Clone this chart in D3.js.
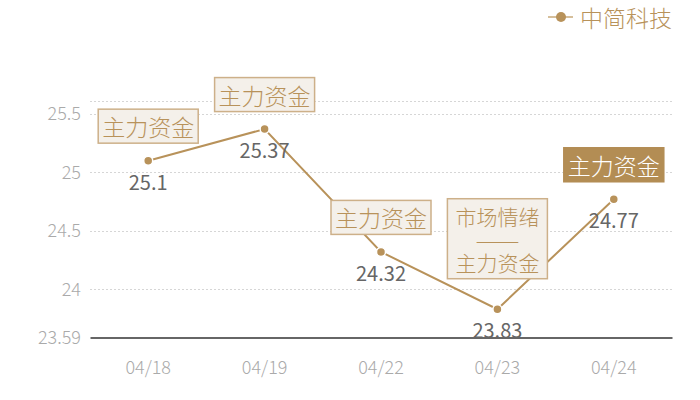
<!DOCTYPE html>
<html><head><meta charset="utf-8">
<script src="https://cdn.jsdelivr.net/npm/d3@7"></script>
<style>
html,body{margin:0;padding:0;background:#fff;}
svg{display:block;font-family:"Noto Sans CJK SC","Noto Sans",sans-serif;}
</style></head>
<body><svg id="c" width="700" height="400"></svg>
<script>
const categories = ["04/18","04/19","04/22","04/23","04/24"];
const values = [25.1, 25.37, 24.32, 23.83, 24.77];
const seriesName = "中简科技";
const yTicks = [23.59, 24, 24.5, 25, 25.5];
const yDomain = [23.59, 25.61];
const annotations = [
  {lines:["主力资金"], filled:false},
  {lines:["主力资金"], filled:false},
  {lines:["主力资金"], filled:false},
  {lines:["市场情绪","——","主力资金"], filled:false},
  {lines:["主力资金"], filled:true}
];

const gold = "#b8925a";
const FF = '"Noto Sans CJK SC","Noto Sans",sans-serif';
const svg = d3.select("#c");
const x = d3.scaleBand().domain(categories).range([90, 672]);
const y = d3.scaleLinear().domain(yDomain).range([337.3, 101]);
const cx = d => x(d) + x.bandwidth()/2;

// grid
const gridVals = yTicks.filter(v => v !== yDomain[0]).concat([yDomain[1]]);
svg.append("g").selectAll("line").data(gridVals).join("line")
  .attr("x1", 90).attr("x2", 672)
  .attr("y1", d => Math.round(y(d))+0.5).attr("y2", d => Math.round(y(d))+0.5)
  .attr("stroke", "#d6d6d6").attr("stroke-dasharray", "2,2");

// y axis labels
const yAxis = d3.axisLeft(y).tickValues(yTicks).tickSize(0).tickPadding(9).tickFormat(d => String(d));
const gy = svg.append("g").attr("transform", "translate(90,0)").call(yAxis);
gy.select(".domain").remove();
gy.selectAll("text").attr("fill", "#aaaaaa").attr("font-size", 18).attr("font-weight", 300)
  .attr("font-family", FF);

// x axis
const xAxis = d3.axisBottom(x).tickSize(0).tickPadding(24);
const gx = svg.append("g").attr("transform", `translate(0,${Math.round(y(yDomain[0]))+0.5})`).call(xAxis);
gx.select(".domain").attr("stroke", "#333").attr("stroke-width", 1.5);
gx.selectAll("text").attr("fill", "#aaaaaa").attr("font-size", 18).attr("font-weight", 300)
  .attr("font-family", FF);

// line
const line = d3.line().x((d,i) => cx(categories[i])).y(d => y(d));
svg.append("path").datum(values).attr("d", line)
  .attr("fill", "none").attr("stroke", gold).attr("stroke-width", 2);

svg.append("g").selectAll("circle").data(values).join("circle")
  .attr("cx", (d,i) => cx(categories[i])).attr("cy", d => y(d)).attr("r", 4.5)
  .attr("fill", gold).attr("stroke", "#fff").attr("stroke-width", 1.5);

// value labels
svg.append("g").selectAll("text").data(values).join("text")
  .attr("x", (d,i) => cx(categories[i])).attr("y", d => y(d) + 29)
  .attr("text-anchor", "middle").attr("font-size", 20).attr("font-weight", 400).attr("fill", "#666")
  .text(d => String(d));

// annotations
const ag = svg.append("g");
annotations.forEach((a, i) => {
  const px = cx(categories[i]), py = y(values[i]);
  const lh = 23;
  const h = a.lines.length === 1 ? 35 : 81;
  const w = 101;
  const gap = a.lines.length === 1 ? 17 : 30;
  const top = py - gap - h;
  ag.append("rect").attr("x", px - w/2 + 0.5).attr("y", top + 0.5).attr("width", w - 1).attr("height", h - 1)
    .attr("fill", a.filled ? "#b38d54" : "#f4f0ea")
    .attr("stroke", a.filled ? "#b38d54" : "#cdb089").attr("stroke-width", 1.5);
  const startY = top + h/2 - (a.lines.length - 1) * lh / 2;
  a.lines.forEach((t, j) => {
    const tx = ag.append("text").attr("x", px).attr("y", startY + j*lh)
      .attr("text-anchor", "middle").attr("dominant-baseline", "central")
      .attr("font-size", a.lines.length === 1 ? 23 : 21).attr("font-weight", 300)
      .attr("fill", a.filled ? "#fff" : "#b8925a").text(t);
    if (t === "——") tx.attr("textLength", 44).attr("lengthAdjust", "spacingAndGlyphs");
  });
});

// legend
const lg = svg.append("g");
lg.append("line").attr("x1", 548).attr("x2", 573).attr("y1", 17).attr("y2", 17)
  .attr("stroke", "#d6bf9b").attr("stroke-width", 2);
lg.append("circle").attr("cx", 561).attr("cy", 17).attr("r", 5).attr("fill", gold);
lg.append("text").attr("x", 580).attr("y", 17).attr("dominant-baseline", "central")
  .attr("font-size", 23).attr("font-weight", 300).attr("fill", gold).text(seriesName);
</script></body></html>
